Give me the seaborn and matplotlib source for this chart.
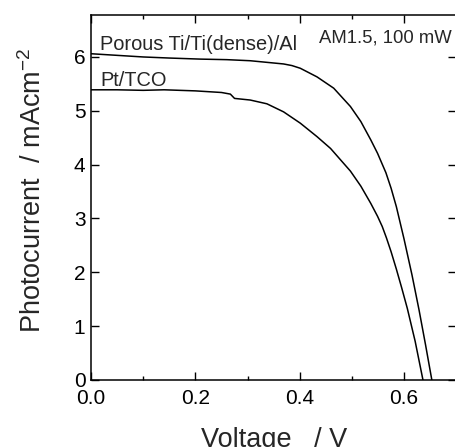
import matplotlib
matplotlib.use("Agg")
import matplotlib.pyplot as plt
import seaborn as sns
import pandas as pd
from matplotlib.ticker import MultipleLocator

# Porous Ti/Ti(dense)/Al curve
voltage_ti = [0.00, 0.05, 0.10, 0.15, 0.21, 0.26, 0.305, 0.369, 0.385, 0.401, 0.433,
              0.465, 0.497, 0.517, 0.536, 0.549, 0.565, 0.575, 0.585, 0.5997, 0.615,
              0.6285, 0.641, 0.653]
current_ti = [6.06, 6.03, 6.00, 5.98, 5.96, 5.95, 5.93, 5.87, 5.84, 5.79, 5.63,
              5.42, 5.08, 4.80, 4.46, 4.21, 3.85, 3.56, 3.22, 2.62, 1.95,
              1.30, 0.65, 0.00]

# Pt/TCO curve
voltage_pt = [0.00, 0.05, 0.10, 0.14, 0.20, 0.25, 0.267, 0.275, 0.305, 0.337, 0.369,
              0.401, 0.433, 0.459, 0.478, 0.497, 0.517, 0.536, 0.549, 0.558, 0.566,
              0.575, 0.585, 0.595, 0.606, 0.621, 0.636]
current_pt = [5.39, 5.39, 5.38, 5.39, 5.37, 5.34, 5.31, 5.23, 5.20, 5.13, 4.98,
              4.77, 4.52, 4.30, 4.09, 3.88, 3.60, 3.28, 3.04, 2.85, 2.64,
              2.38, 2.06, 1.72, 1.33, 0.72, 0.00]

df_ti = pd.DataFrame({"V": voltage_ti, "I": current_ti})
df_pt = pd.DataFrame({"V": voltage_pt, "I": current_pt})

sns.set_style("ticks")
plt.rcParams["font.family"] = ["Liberation Sans", "DejaVu Sans"]
plt.rcParams["mathtext.default"] = "regular"

fig = plt.figure(figsize=(4.55, 4.47), dpi=100)
ax = fig.add_axes([0.2, 0.15, 0.803, 0.8165])

sns.lineplot(data=df_ti, x="V", y="I", sort=False, color="black", linewidth=1.1, ax=ax)
sns.lineplot(data=df_pt, x="V", y="I", sort=False, color="black", linewidth=1.1, ax=ax)

ax.set_xlim(0, 0.7)
ax.set_ylim(0, 6.78)
ax.set_xticks([0.0, 0.2, 0.4, 0.6])
ax.set_xticklabels(["0.0", "0.2", "0.4", "0.6"])
ax.xaxis.set_minor_locator(MultipleLocator(0.1))
ax.yaxis.set_major_locator(MultipleLocator(1))

ax.tick_params(which="both", direction="in", top=True, right=True,
               labelsize=15, width=1.0, color="black", labelcolor="black")
ax.tick_params(which="major", length=6)
ax.tick_params(which="minor", length=3)
ax.tick_params(axis="x", which="major", pad=6.5)
ax.tick_params(axis="y", which="major", pad=4)
for s in ax.spines.values():
    s.set_linewidth(1.1)
    s.set_color("black")

ax.set_xlabel("Voltage   / V", fontsize=19.5)
ax.set_ylabel("Photocurrent  / mAcm$^{-2}$", fontsize=19.5)
ax.xaxis.set_label_coords(0.5, -0.128)
ax.yaxis.set_label_coords(-0.12, 0.52)

ax.text(0.0173, 6.13, "Porous Ti/Ti(dense)/Al", fontsize=14.4, ha="left", va="baseline")
ax.text(0.0173, 5.46, "Pt/TCO", fontsize=14.4, ha="left", va="baseline")
ax.text(0.436, 6.26, "AM1.5, 100 mW", fontsize=13.3, ha="left", va="baseline")

fig.savefig("out.png", dpi=100)
